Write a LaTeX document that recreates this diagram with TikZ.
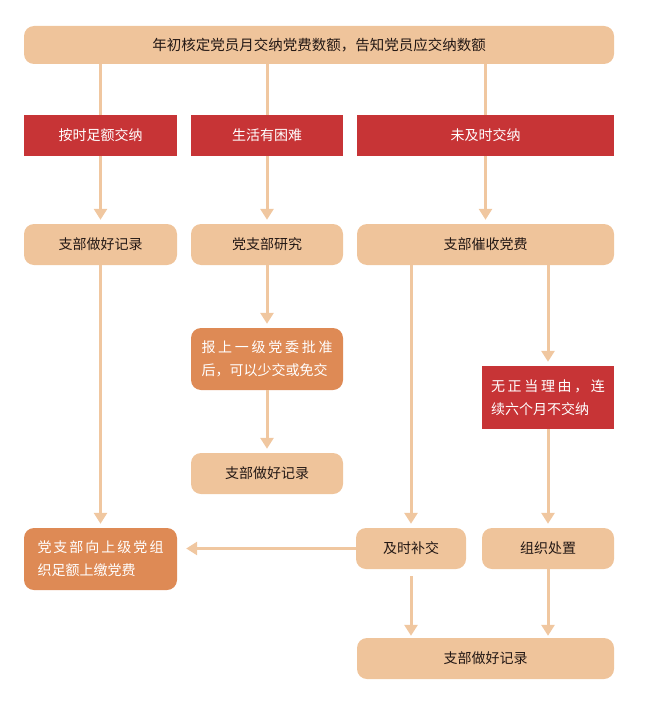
\documentclass[tikz,border=0pt]{standalone}
\usepackage{fontspec}
\setmainfont{Noto Sans CJK SC}
\usepackage{xcolor}
\usepackage{tikz}
\usetikzlibrary{arrows.meta}
\definecolor{pale}{HTML}{EFC49B}
\definecolor{deep}{HTML}{DE8A55}
\definecolor{alert}{HTML}{C73436}
\definecolor{ink}{HTML}{231815}
\definecolor{wire}{HTML}{F0C7A0}

\begin{document}
\begin{tikzpicture}[x=1pt,y=-1pt,
  softbox/.style={fill=pale,rounded corners=10pt,minimum height=41pt,
              inner sep=0pt,text=ink,font=\fontsize{14}{23}\selectfont,align=center},
  deepbox/.style={fill=deep,rounded corners=10pt,minimum height=62pt,
              inner sep=0pt,text=white,font=\fontsize{14}{23}\selectfont,align=left},
  redbox/.style={fill=alert,minimum height=41pt,inner sep=0pt,
              text=white,font=\fontsize{14}{23}\selectfont,align=center},
  wline/.style={draw=wire,line width=3pt},
  arr/.style={wline,-{Triangle[width=13pt,length=11pt]},shorten >=4pt}
]
\useasboundingbox (0,0) rectangle (650,709);
\node[softbox,minimum width=590pt,minimum height=38pt,font=\fontsize{14.5}{20}\selectfont] (top) at (319,45) {年初核定党员月交纳党费数额，告知党员应交纳数额};
\node[redbox,minimum width=153pt] (r1) at (100.5,135.5) {按时足额交纳};
\node[redbox,minimum width=152pt] (r2) at (267,135.5) {生活有困难};
\node[redbox,minimum width=257pt] (r3) at (485.5,135.5) {未及时交纳};
\node[softbox,minimum width=153pt] (b1) at (100.5,244.5) {支部做好记录};
\node[softbox,minimum width=152pt] (b2) at (267,244.5) {党支部研究};
\node[softbox,minimum width=257pt] (b3) at (485.5,244.5) {支部催收党费};
\node[deepbox,minimum width=152pt,text width=131pt] (pz) at (267,359) {\makebox[\linewidth][s]{报\hfill 上\hfill 一\hfill 级\hfill 党\hfill 委\hfill 批\hfill 准}\\后，可以少交或免交};
\node[softbox,minimum width=152pt] (jl2) at (267,473.5) {支部做好记录};
\node[redbox,minimum width=132pt,minimum height=63pt,text width=114pt,align=left] (wz) at (548,397.5) {\makebox[\linewidth][s]{无\hfill 正\hfill 当\hfill 理\hfill 由\hfill ，\hfill 连}\\续六个月不交纳};
\node[deepbox,minimum width=153pt,text width=126pt] (sj) at (100.5,559) {\makebox[\linewidth][s]{党\hfill 支\hfill 部\hfill 向\hfill 上\hfill 级\hfill 党\hfill 组}\\织足额上缴党费};
\node[softbox,minimum width=110pt] (bj) at (411,548.5) {及时补交};
\node[softbox,minimum width=132pt] (cz) at (548,548.5) {组织处置};
\node[softbox,minimum width=257pt] (jl3) at (485.5,658.5) {支部做好记录};
\draw[wline] (top.south -| r1) -- (r1.north);
\draw[wline] (top.south -| r2) -- (r2.north);
\draw[wline] (top.south -| r3) -- (r3.north);
\draw[arr] (r1) -- (b1);
\draw[arr] (r2) -- (b2);
\draw[arr] (r3) -- (b3);
\draw[arr] (b1) -- (sj);
\draw[arr] (b2) -- (pz);
\draw[arr] (pz) -- (jl2);
\draw[arr] (b3.south -| bj) -- (bj.north);
\draw[arr] (b3.south -| wz) -- (wz.north);
\draw[arr] (wz) -- (cz);
\draw[arr,shorten >=9pt] (bj.west) -- (bj.west -| sj.east);
\draw[arr,shorten <=7pt,shorten >=2pt] (bj.south) -- (bj.south |- jl3.north);
\draw[arr,shorten >=2pt] (cz.south) -- (cz.south |- jl3.north);
\end{tikzpicture}
\end{document}
